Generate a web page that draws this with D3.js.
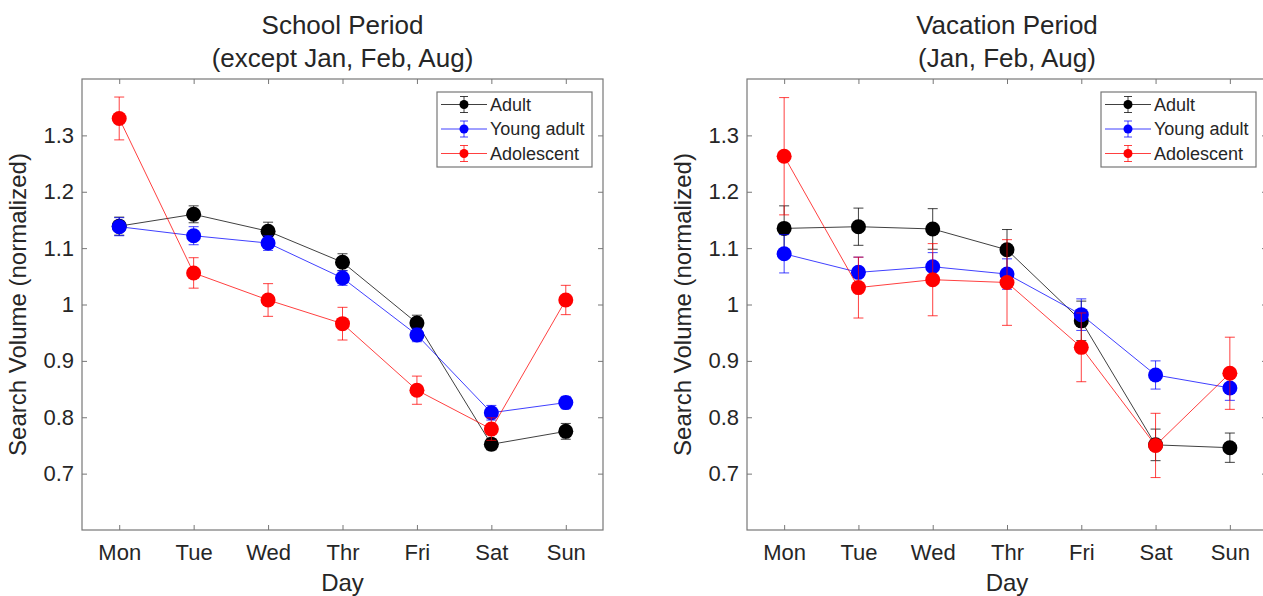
<!DOCTYPE html>
<html lang="en">
<head>
<meta charset="UTF-8">
<title>Search volume by day</title>
<script src="https://cdn.jsdelivr.net/npm/d3@7"></script>
<style>
    body { margin: 0; background: #fff; }
    text { font-family: "Liberation Sans", Arial, sans-serif; fill: #262626; }
    .axis .domain { display: none; }
    .axis line { stroke: #777; }
    .line { fill: none; stroke-width: 1px; }
</style>
</head>
<body>
<svg width="1263" height="596"></svg>
<script>
    var days = ["Mon", "Tue", "Wed", "Thr", "Fri", "Sat", "Sun"];
    var yTicks = [0.7, 0.8, 0.9, 1, 1.1, 1.2, 1.3];
    var groups = ["Adult", "Young adult", "Adolescent"];
    var colors = ["#000000", "#0000ff", "#ff0000"];

    // school period (except Jan, Feb, Aug)
    var schoolAdult = [1.139, 1.160, 1.130, 1.075, 0.967, 0.752, 0.775];
    var schoolAdultErr = [0.016, 0.015, 0.016, 0.015, 0.014, 0.010, 0.014];
    var schoolYoung = [1.138, 1.122, 1.109, 1.047, 0.946, 0.808, 0.826];
    var schoolYoungErr = [0.016, 0.016, 0.013, 0.013, 0.012, 0.013, 0.011];
    var schoolTeen = [1.330, 1.056, 1.008, 0.966, 0.848, 0.779, 1.008];
    var schoolTeenErr = [0.038, 0.027, 0.029, 0.029, 0.025, 0.020, 0.026];

    // vacation period (Jan, Feb, Aug)
    var vacAdult = [1.135, 1.138, 1.134, 1.097, 0.971, 0.751, 0.746];
    var vacAdultErr = [0.040, 0.033, 0.036, 0.036, 0.035, 0.028, 0.026];
    var vacYoung = [1.090, 1.057, 1.067, 1.054, 0.982, 0.875, 0.852];
    var vacYoungErr = [0.034, 0.027, 0.025, 0.027, 0.028, 0.025, 0.022];
    var vacTeen = [1.263, 1.030, 1.044, 1.039, 0.924, 0.750, 0.878];
    var vacTeenErr = [0.104, 0.054, 0.064, 0.076, 0.061, 0.057, 0.064];

    var panels = [
        {
            title: ["School Period", "(except Jan, Feb, Aug)"],
            left: 82, right: 603,
            values: [schoolAdult, schoolYoung, schoolTeen],
            errors: [schoolAdultErr, schoolYoungErr, schoolTeenErr]
        },
        {
            title: ["Vacation Period", "(Jan, Feb, Aug)"],
            left: 747, right: 1267,
            values: [vacAdult, vacYoung, vacTeen],
            errors: [vacAdultErr, vacYoungErr, vacTeenErr]
        }
    ];

    var svg = d3.select("svg"),
        plotTop = 79,
        plotBottom = 530;

    var y = d3.scaleLinear().domain([0.6, 1.4]).range([plotBottom, plotTop]);

    panels.forEach(function (p) {
        var x = d3.scaleLinear().domain([0.5, 7.5]).range([p.left, p.right]);
        var g = svg.append("g");

        // ticks on all four sides, pointing in
        g.append("g").attr("class", "axis")
            .attr("transform", "translate(0," + plotBottom + ")")
            .call(d3.axisBottom(x).tickValues(d3.range(1, 8))
                .tickFormat(function (d) { return days[d - 1]; })
                .tickSizeInner(-5).tickSizeOuter(0).tickPadding(14))
            .selectAll("text").style("font-size", "22px");
        g.append("g").attr("class", "axis")
            .attr("transform", "translate(0," + plotTop + ")")
            .call(d3.axisTop(x).tickValues(d3.range(1, 8)).tickFormat("")
                .tickSizeInner(-5).tickSizeOuter(0));
        g.append("g").attr("class", "axis")
            .attr("transform", "translate(" + p.left + ",0)")
            .call(d3.axisLeft(y).tickValues(yTicks).tickFormat(d3.format("~g"))
                .tickSizeInner(-5).tickSizeOuter(0).tickPadding(8))
            .selectAll("text").style("font-size", "22px");
        g.append("g").attr("class", "axis")
            .attr("transform", "translate(" + p.right + ",0)")
            .call(d3.axisRight(y).tickValues(yTicks).tickFormat("")
                .tickSizeInner(-5).tickSizeOuter(0));

        g.append("rect")
            .attr("x", p.left).attr("y", plotTop)
            .attr("width", p.right - p.left).attr("height", plotBottom - plotTop)
            .attr("fill", "none").attr("stroke", "#777").attr("stroke-width", 1.2);

        var cx = (p.left + p.right) / 2;
        g.append("text").attr("x", cx).attr("y", 34)
            .attr("text-anchor", "middle").style("font-size", "26px").text(p.title[0]);
        g.append("text").attr("x", cx).attr("y", 67)
            .attr("text-anchor", "middle").style("font-size", "26px").text(p.title[1]);
        g.append("text").attr("x", cx).attr("y", 591)
            .attr("text-anchor", "middle").style("font-size", "24px").text("Day");
        g.append("text")
            .attr("transform", "translate(" + (p.left - 56) + "," + ((plotTop + plotBottom) / 2) + ") rotate(-90)")
            .attr("text-anchor", "middle").style("font-size", "24px")
            .text("Search Volume (normalized)");

        var line = d3.line()
            .x(function (d, i) { return x(i + 1); })
            .y(function (d) { return y(d); });

        p.values.forEach(function (vals, k) {
            var errs = p.errors[k],
                col = colors[k],
                s = g.append("g");
            s.append("path").datum(vals)
                .attr("class", "line")
                .attr("stroke", col)
                .attr("stroke-opacity", 0.75)
                .attr("d", line);
            var eb = s.selectAll(".err").data(vals).enter().append("g");
            eb.append("line")
                .attr("x1", function (d, i) { return x(i + 1); })
                .attr("x2", function (d, i) { return x(i + 1); })
                .attr("y1", function (d, i) { return y(d - errs[i]); })
                .attr("y2", function (d, i) { return y(d + errs[i]); });
            eb.append("line")
                .attr("x1", function (d, i) { return x(i + 1) - 5; })
                .attr("x2", function (d, i) { return x(i + 1) + 5; })
                .attr("y1", function (d, i) { return y(d + errs[i]); })
                .attr("y2", function (d, i) { return y(d + errs[i]); });
            eb.append("line")
                .attr("x1", function (d, i) { return x(i + 1) - 5; })
                .attr("x2", function (d, i) { return x(i + 1) + 5; })
                .attr("y1", function (d, i) { return y(d - errs[i]); })
                .attr("y2", function (d, i) { return y(d - errs[i]); });
            eb.selectAll("line").attr("stroke", col).attr("stroke-opacity", 0.75);
            s.selectAll("circle").data(vals).enter().append("circle")
                .attr("cx", function (d, i) { return x(i + 1); })
                .attr("cy", function (d) { return y(d); })
                .attr("r", 7.5)
                .attr("fill", col);
        });

        // legend
        var lw = 155, lh = 75,
            lx = p.right - 11 - lw, ly = 92;
        var leg = g.append("g").attr("transform", "translate(" + lx + "," + ly + ")");
        leg.append("rect").attr("width", lw).attr("height", lh)
            .attr("fill", "#fff").attr("stroke", "#777").attr("stroke-width", 1.2);
        groups.forEach(function (name, k) {
            var ry = 12.5 + k * 24.5,
                row = leg.append("g").attr("transform", "translate(0," + ry + ")");
            row.append("line").attr("x1", 4).attr("x2", 50)
                .attr("stroke", colors[k]).attr("stroke-opacity", 0.75);
            row.append("line").attr("x1", 27).attr("x2", 27).attr("y1", -8).attr("y2", 8)
                .attr("stroke", colors[k]).attr("stroke-opacity", 0.75);
            row.append("line").attr("x1", 23).attr("x2", 31).attr("y1", -8).attr("y2", -8)
                .attr("stroke", colors[k]).attr("stroke-opacity", 0.75);
            row.append("line").attr("x1", 23).attr("x2", 31).attr("y1", 8).attr("y2", 8)
                .attr("stroke", colors[k]).attr("stroke-opacity", 0.75);
            row.append("circle").attr("cx", 27).attr("r", 4.5).attr("fill", colors[k]);
            row.append("text").attr("x", 53).attr("dy", "0.35em")
                .style("font-size", "18px").text(name);
        });
    });
</script>
</body>
</html>
